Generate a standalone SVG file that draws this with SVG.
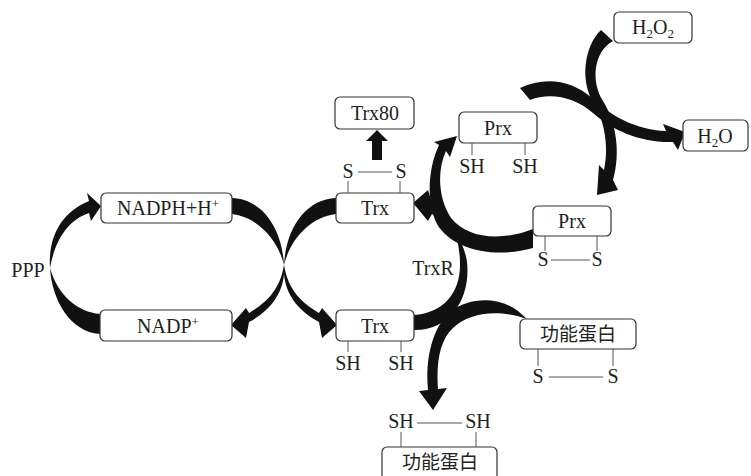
<svg xmlns="http://www.w3.org/2000/svg" width="751" height="476" viewBox="0 0 751 476">
<style>
.box{fill:#fff;stroke:#333;stroke-width:1.2}
.t{font-family:'Liberation Serif','DejaVu Serif','Times New Roman',serif;font-size:20px;fill:#231f20;text-anchor:middle}
.c{font-family:'Noto Sans CJK SC',sans-serif;font-size:19px;fill:#231f20;text-anchor:middle}
.tick{stroke:#555;stroke-width:1;fill:none}
.arr{fill:#111;stroke:none}
</style>
<rect width="751" height="476" fill="#fff"/>
<g id="connectors">
<path class="arr" d="M 50 268 C 48 236, 62 212, 89 201 L 87 193 L 101 206 L 91 221 L 89 213 C 68 220, 55 240, 50 268 Z"/>
<path class="arr" d="M 50 268 C 52 300, 70 332, 100 334 L 100 314 C 78 312, 58 296, 50 268 Z"/>
<path class="arr" d="M 232 198 C 262 199, 282 228, 284 265 C 278 240, 258 217, 232 214 Z"/>
<path class="arr" d="M 284 265 C 286 292, 270 311, 249 322 L 246 338 L 231 325 L 246 308 L 249 313 C 266 303, 280 290, 284 265 Z"/>
<path class="arr" d="M 336 198 C 306 199, 286 228, 284 265 C 290 240, 310 217, 336 214 Z"/>
<path class="arr" d="M 284 265 C 282 292, 298 311, 319 322 L 322 338 L 337 325 L 322 308 L 319 313 C 302 303, 288 290, 284 265 Z"/>
<path class="arr" d="M 414 330 C 450 331, 471 298, 467 262 C 464 240, 451 225, 432 214 L 428 221 L 413 203 L 428 190 L 432 203 C 450 212, 459 233, 460 262 C 461 292, 444 313, 414 315 Z"/>
<path class="arr" d="M 457 136 L 450 157 L 446 151 C 437 170, 438 198, 451 218 C 467 238, 500 242, 533 229 L 533 248 C 495 259, 452 250, 437 224 C 426 202, 428 168, 439 145 L 434 142 Z"/>
<path class="arr" d="M 601 30 C 585 45, 579 80, 594 104 C 605 122, 609 148, 604 170 L 599 165 L 597 195 L 618 190 L 613 180 C 621 152, 616 122, 603 101 C 591 82, 593 52, 613 41 Z"/>
<path class="arr" d="M 520 88 C 545 76, 572 80, 592 98 C 610 115, 635 130, 666 131 L 663 124 L 685 132 L 678 150 L 673 142 C 640 143, 612 130, 593 113 C 575 97, 550 92, 530 100 Z"/>
<path class="arr" d="M 518 311 C 500 297, 470 296, 450 312 C 432 328, 425 360, 428 390 L 419 391 L 433 410 L 447 388 L 438 389 C 436 362, 440 340, 453 328 C 468 314, 495 308, 527 319 Z"/>
<path class="arr" d="M 372 160 L 382 160 L 382 141 L 388 141 L 377 130 L 366 141 L 372 141 Z"/>
</g>
<g id="ppp"><text class="t" x="28" y="277">PPP</text></g>
<g id="trxr"><text class="t" x="433" y="275">TrxR</text></g>
<g id="nadph"><rect class="box" x="101" y="193" width="131" height="30" rx="5"/><text class="t" x="168" y="215">NADPH+H<tspan dy="-7" font-size="13">+</tspan></text></g>
<g id="nadp"><rect class="box" x="100" y="310" width="132" height="31" rx="5"/><text class="t" x="168" y="333">NADP<tspan dy="-7" font-size="13">+</tspan></text></g>
<g id="trx80"><rect class="box" x="335" y="97" width="79" height="32" rx="5"/><text class="t" x="375" y="120">Trx80</text></g>
<g id="trx-ox"><rect class="box" x="336" y="193" width="78" height="30" rx="5"/><text class="t" x="375" y="215">Trx</text>
<line class="tick" x1="348" y1="181" x2="348" y2="193"/><line class="tick" x1="400" y1="181" x2="400" y2="193"/>
<line class="tick" x1="358" y1="172" x2="392" y2="172"/>
<text class="t" x="348" y="178">S</text><text class="t" x="401" y="178">S</text></g>
<g id="trx-red"><rect class="box" x="336" y="310" width="78" height="31" rx="5"/><text class="t" x="375" y="333">Trx</text>
<line class="tick" x1="348" y1="341" x2="348" y2="352"/><line class="tick" x1="401" y1="341" x2="401" y2="352"/>
<text class="t" x="348" y="370">SH</text><text class="t" x="401" y="370">SH</text></g>
<g id="prx-red"><rect class="box" x="459" y="112" width="78" height="31" rx="5"/><text class="t" x="498" y="135">Prx</text>
<line class="tick" x1="472" y1="143" x2="472" y2="155"/><line class="tick" x1="525" y1="143" x2="525" y2="155"/>
<text class="t" x="472" y="173">SH</text><text class="t" x="525" y="173">SH</text></g>
<g id="prx-ox"><rect class="box" x="533" y="206" width="78" height="30" rx="5"/><text class="t" x="572" y="228">Prx</text>
<line class="tick" x1="545" y1="236" x2="545" y2="251"/><line class="tick" x1="597" y1="236" x2="597" y2="251"/>
<line class="tick" x1="551" y1="260" x2="590" y2="260"/>
<text class="t" x="543" y="266">S</text><text class="t" x="597" y="266">S</text></g>
<g id="h2o2"><rect class="box" x="614" y="12" width="78" height="31" rx="5"/><text class="t" x="653" y="34">H<tspan font-size="13" dy="4">2</tspan><tspan dy="-4">O</tspan><tspan font-size="13" dy="4">2</tspan></text></g>
<g id="h2o"><rect class="box" x="683" y="120" width="65" height="31" rx="5"/><text class="t" x="715" y="143">H<tspan font-size="13" dy="4">2</tspan><tspan dy="-4">O</tspan></text></g>
<g id="protein-ox"><rect class="box" x="520" y="319" width="116" height="30" rx="5"/><text class="c" x="578" y="341">功能蛋白</text>
<line class="tick" x1="538" y1="349" x2="538" y2="366"/><line class="tick" x1="613" y1="349" x2="613" y2="366"/>
<line class="tick" x1="549" y1="377" x2="603" y2="377"/>
<text class="t" x="538" y="383">S</text><text class="t" x="613" y="383">S</text></g>
<g id="protein-red"><rect class="box" x="382" y="447" width="115" height="34" rx="5"/><text class="c" x="440" y="469">功能蛋白</text>
<line class="tick" x1="401" y1="432" x2="401" y2="447"/><line class="tick" x1="476" y1="432" x2="476" y2="447"/>
<line class="tick" x1="417" y1="423" x2="462" y2="423"/>
<text class="t" x="401" y="428">SH</text><text class="t" x="478" y="428">SH</text></g>
</svg>
